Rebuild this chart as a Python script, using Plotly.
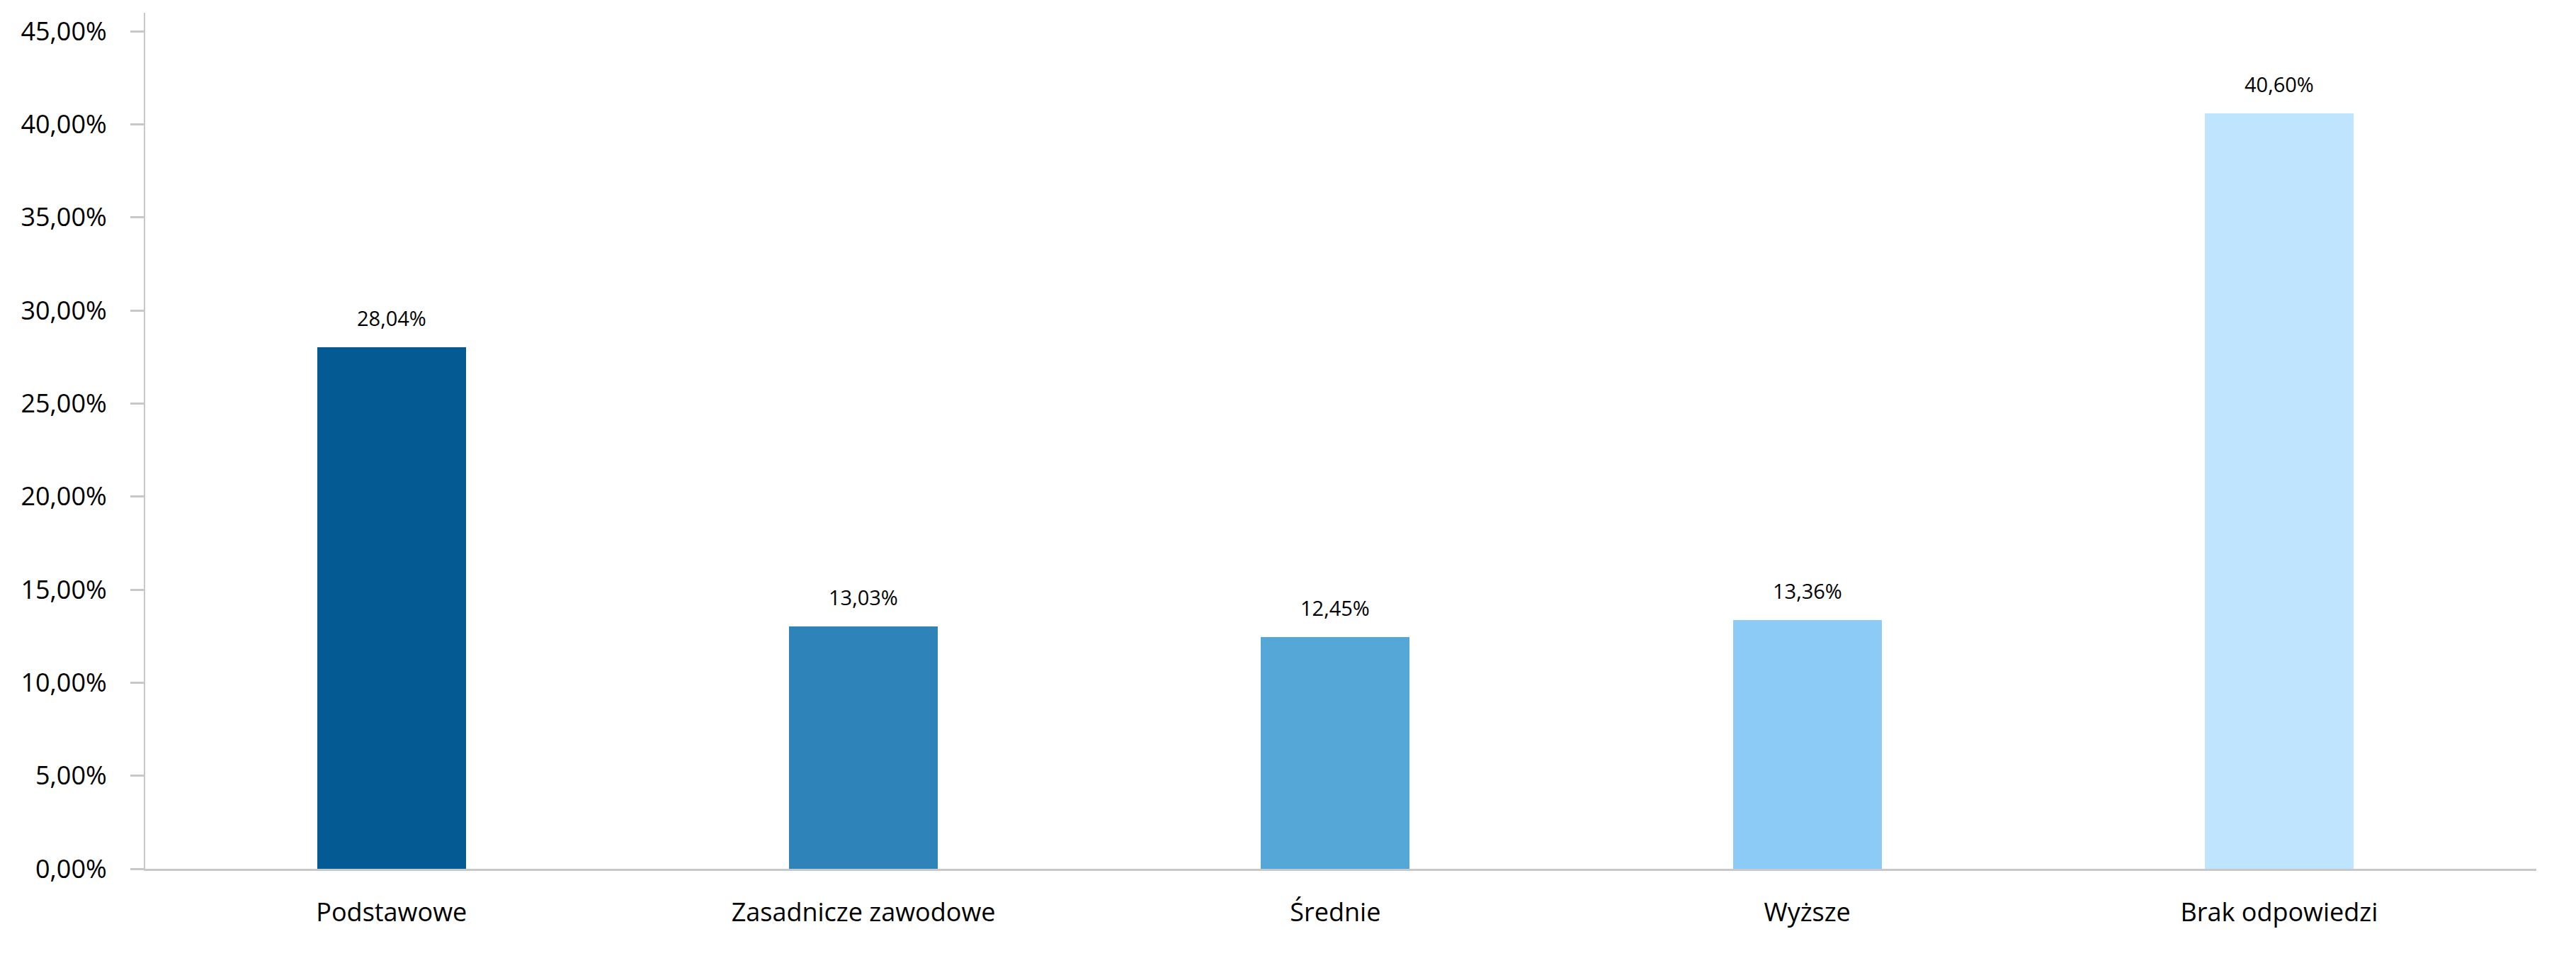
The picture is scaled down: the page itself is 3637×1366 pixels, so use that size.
import plotly.graph_objects as go

categories = ["Podstawowe", "Zasadnicze zawodowe", "Średnie", "Wyższe", "Brak odpowiedzi"]
values = [28.04, 13.03, 12.45, 13.36, 40.60]
colors = ["#045B93", "#2E83B8", "#55A7D8", "#8BCBF6", "#BEE5FD"]
y_ticks = [0, 5, 10, 15, 20, 25, 30, 35, 40, 45]

def pl(v):
    return f"{v:.2f}".replace(".", ",") + "%"

fig = go.Figure()
fig.add_trace(go.Bar(
    x=list(range(len(categories))),
    y=values,
    marker=dict(color=colors, line=dict(width=0)),
    width=0.315,
    hoverinfo="skip",
))

for i, v in enumerate(values):
    fig.add_annotation(
        x=i, y=v, text=pl(v), showarrow=False,
        yanchor="bottom", yshift=20,
        font=dict(family="Open Sans", size=29, color="#000000"),
    )

fig.update_layout(
    width=3637, height=1366,
    margin=dict(l=197, r=64, t=10, b=148),
    paper_bgcolor="white", plot_bgcolor="white",
    showlegend=False,
    bargap=0,
    font=dict(family="Open Sans", color="#000000"),
)
fig.update_xaxes(
    range=[-0.522, 4.545],
    tickmode="array",
    tickvals=list(range(len(categories))),
    ticktext=categories,
    ticks="",
    showgrid=False,
    zeroline=False,
    showline=True, linecolor="#C8C8C8", linewidth=3,
    tickfont=dict(family="Open Sans", size=36, color="#000000"),
    ticklabelstandoff=28,
)
fig.update_yaxes(
    range=[0, 46],
    tickmode="array",
    tickvals=y_ticks,
    ticktext=[pl(v) for v in y_ticks],
    ticks="outside", ticklen=19, tickwidth=3, tickcolor="#C8C8C8",
    showgrid=False,
    zeroline=False,
    showline=True, linecolor="#C8C8C8", linewidth=2,
    tickfont=dict(family="Open Sans", size=36, color="#000000"),
    ticklabelstandoff=26,
)

fig.write_html("out.html")
